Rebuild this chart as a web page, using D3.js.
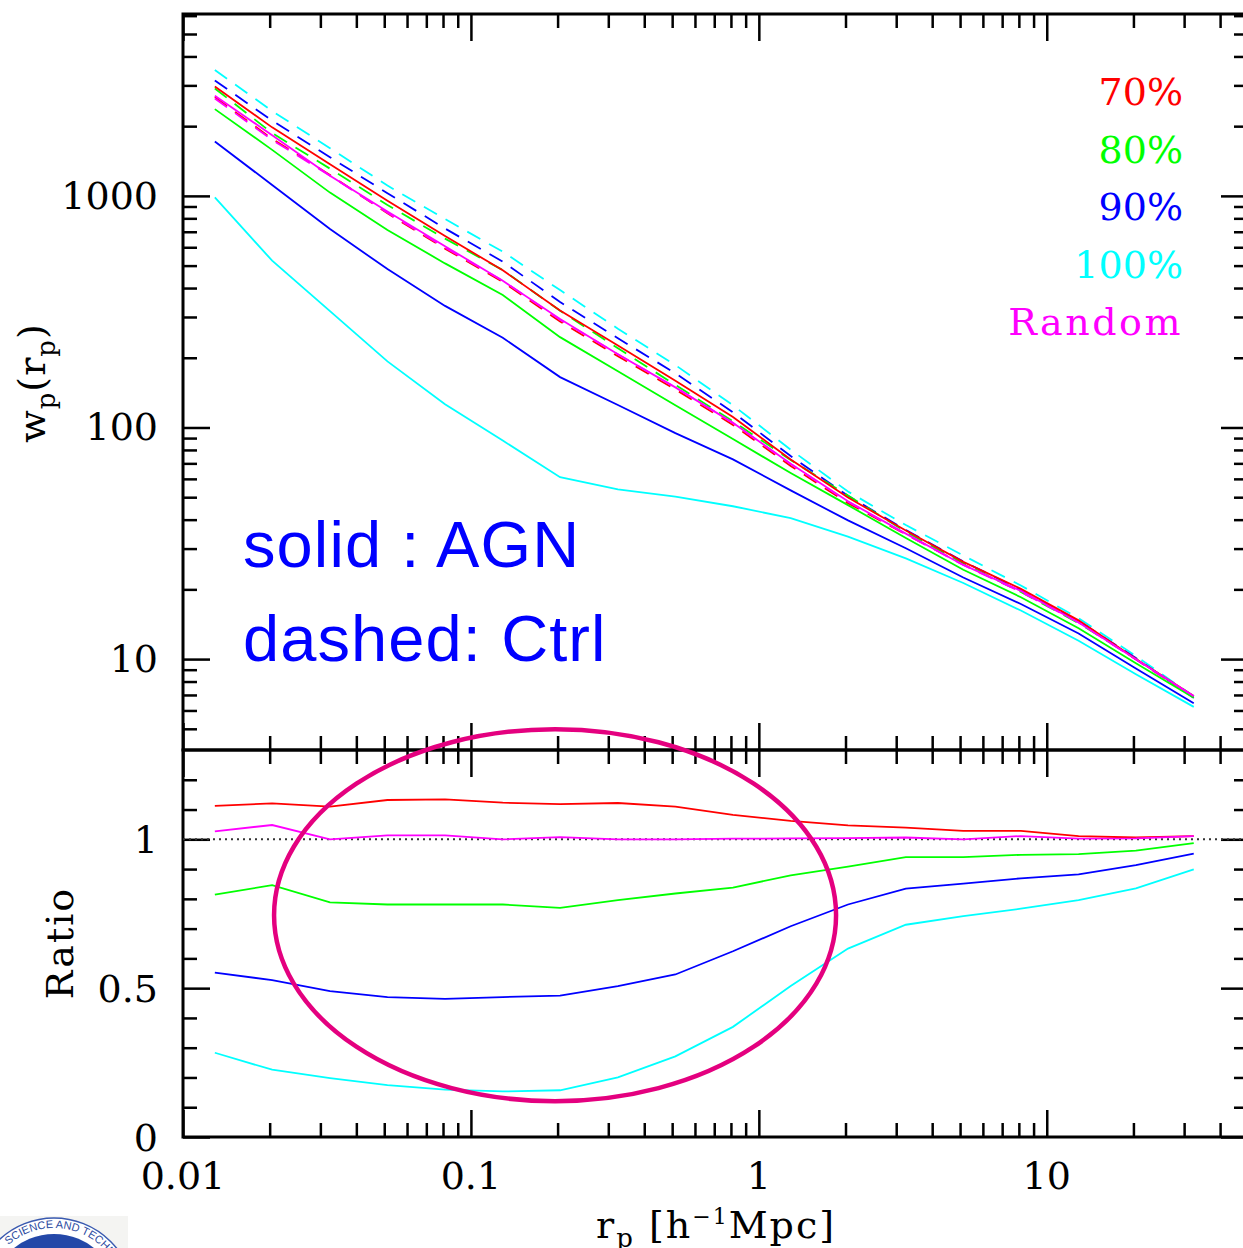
<!DOCTYPE html>
<html>
<head>
<meta charset="utf-8">
<script src="https://cdn.jsdelivr.net/npm/d3@7"></script>
<style>
  body { margin: 0; background: #fff; overflow: hidden; }
  text { white-space: pre; }
</style>
</head>
<body>
<div id="chart"></div>
<script>
// Projected separation bins [h^-1 Mpc]
const rp = [0.0129, 0.0204, 0.0324, 0.0513, 0.0813, 0.129, 0.204, 0.324, 0.513,
            0.813, 1.29, 2.04, 3.24, 5.13, 8.13, 12.9, 20.4, 32.4];

// w_p(r_p), AGN samples (solid)
const agn70  = [2968, 1976, 1368, 952, 671, 477, 320, 226, 159, 111, 72.8, 49.8, 35.9, 26.3, 20.1, 14.7, 10.0, 6.93];
const agn80  = [2369, 1580, 1033, 713, 511, 373, 245.5, 175, 124.8, 89.1, 63.6, 46.2, 33.3, 24.3, 18.5, 13.6, 9.6, 6.81];
const agn90  = [1718, 1114, 719, 483, 335, 244, 165, 125, 94.5, 72.8, 53.5, 39.7, 30.1, 22.5, 17.3, 12.9, 9.1, 6.44];
const agn100 = [986, 525, 318, 193, 126, 87.8, 61.0, 54.0, 50.3, 45.7, 40.6, 33.8, 27.2, 21.3, 16.2, 12.0, 8.6, 6.22];
const agnRandom = [2704, 1829, 1222, 856, 606, 430, 294, 207, 149, 104.7, 69.7, 48.0, 34.8, 25.5, 19.7, 14.4, 9.98, 6.92];

// w_p(r_p), control samples (dashed)
const ctrl70  = [2669, 1763, 1232, 841, 592, 425, 287, 203, 146, 102.6, 68.2, 47.1, 34.6, 25.6, 19.6, 14.5, 9.98, 6.85];
const ctrl80  = [2910, 1868, 1311, 913, 654, 478, 319, 220, 152.6, 106.3, 72.4, 50.9, 35.4, 25.9, 19.5, 14.3, 10.0, 6.9];
const ctrl90  = [3150, 2113, 1468, 1027, 723, 520, 348, 242.7, 171.4, 116.3, 75.3, 50.7, 36.1, 26.4, 19.9, 14.6, 10.1, 6.8];
const ctrl100 = [3499, 2323, 1607, 1108, 795, 574, 392, 267, 186, 124.7, 80.2, 52.9, 37.9, 28.0, 20.8, 15.0, 10.3, 6.9];
const ctrlRandom = [2633, 1745, 1222, 845, 598, 430, 292, 207, 149, 104.5, 69.5, 47.8, 34.6, 25.5, 19.5, 14.4, 9.95, 6.84];

// Ratio AGN / Ctrl
const ratio70  = [1.112, 1.121, 1.110, 1.132, 1.134, 1.123, 1.118, 1.122, 1.110, 1.082, 1.062, 1.047, 1.039, 1.028, 1.028, 1.011, 1.006, 1.011];
const ratio80  = [0.814, 0.846, 0.788, 0.781, 0.781, 0.781, 0.770, 0.796, 0.818, 0.838, 0.879, 0.908, 0.940, 0.940, 0.948, 0.950, 0.962, 0.987];
const ratio90  = [0.552, 0.527, 0.490, 0.470, 0.464, 0.470, 0.475, 0.507, 0.546, 0.624, 0.708, 0.781, 0.834, 0.851, 0.869, 0.882, 0.913, 0.952];
const ratio100 = [0.283, 0.226, 0.198, 0.174, 0.159, 0.153, 0.157, 0.200, 0.271, 0.370, 0.507, 0.633, 0.713, 0.742, 0.767, 0.796, 0.835, 0.899];
const ratioRandom = [1.027, 1.048, 1.000, 1.013, 1.013, 1.000, 1.007, 1.000, 1.000, 1.002, 1.003, 1.004, 1.006, 1.000, 1.011, 1.002, 1.003, 1.011];

// Legend / tick labels
const legendLabels = ['70%', '80%', '90%', '100%', 'Random'];
const colors = ['#ff0000', '#00ff00', '#0000ff', '#00ffff', '#ff00ff'];
const xTickValues = [0.01, 0.1, 1, 10];
const xTickLabels = ['0.01', '0.1', '1', '10'];
const wpTickValues = [10, 100, 1000];
const ratioTickValues = [0, 0.5, 1];
const ratioTickLabels = ['0', '0.5', '1'];

const width = 1243;
const height = 1248;
const plotLeft = 183, plotRight = 1248, plotTop = 14, plotMid = 750, plotBottom = 1137;
const serif = "'DejaVu Serif', serif";
const sans = "'Liberation Sans', Arial, sans-serif";

// Scales
const x = d3.scaleLog().domain([0.01, 50]).range([plotLeft, plotRight]);
const yTop = d3.scaleLog().domain([4.05, 6100]).range([plotMid, plotTop]);
const yRatio = d3.scaleLinear().domain([0, 1.3]).range([plotBottom, plotMid]);

const svg = d3.select('#chart')
  .append('svg')
  .attr('width', width)
  .attr('height', height);

// Minor ticks for log axes
function logMinor(lo, hi) {
  const out = [];
  for (let d = Math.pow(10, Math.floor(Math.log10(lo))); d < hi; d *= 10) {
    for (let k = 2; k <= 9; k++) {
      const v = +(d * k).toPrecision(3);
      if (v > lo && v < hi) out.push(v);
    }
  }
  return out;
}
const xMinor = logMinor(0.01, 50);
const wpMinor = logMinor(4.05, 6100);
const ratioMinor = d3.range(1, 13).map(i => i / 10).filter(v => v !== 0.5 && v !== 1);

function ticks(axisFn, scale, values, size, transform) {
  svg.append('g')
    .attr('transform', transform)
    .call(axisFn(scale).tickValues(values).tickSize(size).tickFormat(''))
    .call(g => g.select('.domain').remove())
    .selectAll('line')
    .attr('stroke', '#000')
    .attr('stroke-width', 2.5);
}

// Top panel ticks
ticks(d3.axisBottom, x, xTickValues, 27, `translate(0,${plotTop})`);
ticks(d3.axisBottom, x, xMinor, 14, `translate(0,${plotTop})`);
ticks(d3.axisTop, x, xTickValues, 27, `translate(0,${plotMid})`);
ticks(d3.axisTop, x, xMinor, 14, `translate(0,${plotMid})`);
ticks(d3.axisRight, yTop, wpTickValues, 27, `translate(${plotLeft},0)`);
ticks(d3.axisRight, yTop, wpMinor, 14, `translate(${plotLeft},0)`);
ticks(d3.axisLeft, yTop, wpTickValues, 27, `translate(${plotRight},0)`);
ticks(d3.axisLeft, yTop, wpMinor, 14, `translate(${plotRight},0)`);

// Ratio panel ticks
ticks(d3.axisBottom, x, xTickValues, 27, `translate(0,${plotMid})`);
ticks(d3.axisBottom, x, xMinor, 14, `translate(0,${plotMid})`);
ticks(d3.axisTop, x, xTickValues, 27, `translate(0,${plotBottom})`);
ticks(d3.axisTop, x, xMinor, 14, `translate(0,${plotBottom})`);
ticks(d3.axisRight, yRatio, ratioTickValues, 27, `translate(${plotLeft},0)`);
ticks(d3.axisRight, yRatio, ratioMinor, 14, `translate(${plotLeft},0)`);
ticks(d3.axisLeft, yRatio, ratioTickValues, 27, `translate(${plotRight},0)`);
ticks(d3.axisLeft, yRatio, ratioMinor, 14, `translate(${plotRight},0)`);

// Frames
[[plotTop, plotMid], [plotMid, plotBottom]].forEach(([a, b]) => {
  svg.append('rect')
    .attr('x', plotLeft).attr('y', a)
    .attr('width', plotRight - plotLeft).attr('height', b - a)
    .attr('fill', 'none')
    .attr('stroke', '#000')
    .attr('stroke-width', 3);
});

// Reference line at ratio = 1
svg.append('line')
  .attr('x1', plotLeft).attr('x2', plotRight)
  .attr('y1', yRatio(1)).attr('y2', yRatio(1))
  .attr('stroke', '#333')
  .attr('stroke-width', 2)
  .attr('stroke-dasharray', '2,4');

// Lines
const wpLine = d3.line().x((d, i) => x(rp[i])).y(d => yTop(d));
const ratioLine = d3.line().x((d, i) => x(rp[i])).y(d => yRatio(d));

const ctrlSeries = [ctrl100, ctrl90, ctrl80, ctrl70, ctrlRandom];
const ctrlColors = [colors[3], colors[2], colors[1], colors[0], colors[4]];
ctrlSeries.forEach((s, i) => {
  svg.append('path')
    .attr('d', wpLine(s))
    .attr('fill', 'none')
    .attr('stroke', ctrlColors[i])
    .attr('stroke-width', 1.8)
    .attr('stroke-dasharray', '15,10');
});

const agnSeries = [agn70, agn80, agn90, agn100, agnRandom];
agnSeries.forEach((s, i) => {
  svg.append('path')
    .attr('d', wpLine(s))
    .attr('fill', 'none')
    .attr('stroke', colors[i])
    .attr('stroke-width', 1.8);
});

const ratioSeries = [ratio70, ratio80, ratio90, ratio100, ratioRandom];
ratioSeries.forEach((s, i) => {
  svg.append('path')
    .attr('d', ratioLine(s))
    .attr('fill', 'none')
    .attr('stroke', colors[i])
    .attr('stroke-width', 1.8);
});

// Tick labels
svg.selectAll('.xlab')
  .data(xTickValues)
  .enter()
  .append('text')
  .attr('x', d => x(d))
  .attr('y', 1189)
  .attr('text-anchor', 'middle')
  .style('font-family', serif)
  .style('font-size', '38px')
  .text((d, i) => xTickLabels[i]);

svg.selectAll('.wplab')
  .data(wpTickValues)
  .enter()
  .append('text')
  .attr('x', 158)
  .attr('y', d => yTop(d) + 13)
  .attr('text-anchor', 'end')
  .style('font-family', serif)
  .style('font-size', '38px')
  .text(d => d);

svg.selectAll('.rlab')
  .data(ratioTickValues)
  .enter()
  .append('text')
  .attr('x', 158)
  .attr('y', d => yRatio(d) + 14)
  .attr('text-anchor', 'end')
  .style('font-family', serif)
  .style('font-size', '38px')
  .text((d, i) => ratioTickLabels[i]);

// Axis titles
const xTitle = svg.append('text')
  .attr('x', 596).attr('y', 1238)
  .style('font-family', serif)
  .style('font-size', '38px')
  .style('letter-spacing', '2px');
xTitle.append('tspan').text('r');
xTitle.append('tspan').attr('dy', 9).style('font-size', '26px').text('p');
xTitle.append('tspan').attr('dy', -9).text(' [h');
xTitle.append('tspan').attr('dy', -14).style('font-size', '22px').text('−1');
xTitle.append('tspan').attr('dy', 14).text('Mpc]');

const yTitle = svg.append('text')
  .attr('transform', 'translate(45,383) rotate(-90)')
  .attr('text-anchor', 'middle')
  .style('font-family', serif)
  .style('font-size', '38px')
  .style('letter-spacing', '1px');
yTitle.append('tspan').text('w');
yTitle.append('tspan').attr('dy', 10).style('font-size', '26px').text('p');
yTitle.append('tspan').attr('dy', -10).text('(r');
yTitle.append('tspan').attr('dy', 10).style('font-size', '26px').text('p');
yTitle.append('tspan').attr('dy', -10).text(')');

svg.append('text')
  .attr('transform', 'translate(73,943) rotate(-90)')
  .attr('text-anchor', 'middle')
  .style('font-family', serif)
  .style('font-size', '38px')
  .style('letter-spacing', '2px')
  .text('Ratio');

// Legend
svg.selectAll('.legend')
  .data(legendLabels)
  .enter()
  .append('text')
  .attr('x', 1183)
  .attr('y', (d, i) => 105 + i * 57.5)
  .attr('text-anchor', 'end')
  .attr('fill', (d, i) => colors[i])
  .style('font-family', serif)
  .style('font-size', '38px')
  .style('letter-spacing', d => d === 'Random' ? '2.5px' : '0px')
  .text(d => d);

// Line style note
svg.append('text')
  .attr('x', 243).attr('y', 567)
  .attr('fill', '#0000ff')
  .style('font-family', sans)
  .style('font-size', '65px')
  .style('letter-spacing', '1.1px')
  .text('solid : AGN');
svg.append('text')
  .attr('x', 243).attr('y', 661)
  .attr('fill', '#0000ff')
  .style('font-family', sans)
  .style('font-size', '65px')
  .style('letter-spacing', '1.1px')
  .text('dashed: Ctrl');

// Highlight ellipse
svg.append('ellipse')
  .attr('cx', x(0.196))
  .attr('cy', yRatio(0.745))
  .attr('rx', 281)
  .attr('ry', 186)
  .attr('fill', 'none')
  .attr('stroke', '#e4007f')
  .attr('stroke-width', 4.5);

// Partial logo in the corner
const logo = svg.append('g');
logo.append('rect')
  .attr('x', 0).attr('y', 1216)
  .attr('width', 128).attr('height', 40)
  .attr('fill', '#f4f4f2');
logo.append('circle')
  .attr('cx', 54).attr('cy', 1298).attr('r', 80)
  .attr('fill', '#fff')
  .attr('stroke', '#3a5ab0')
  .attr('stroke-width', 1.5);
logo.append('circle')
  .attr('cx', 54).attr('cy', 1298).attr('r', 64)
  .attr('fill', '#2448a8');
logo.append('path')
  .attr('id', 'logoArc')
  .attr('d', 'M -16 1298 A 70 70 0 0 1 124 1298')
  .attr('fill', 'none');
logo.append('text')
  .attr('fill', '#2a4aa0')
  .style('font-family', sans)
  .style('font-size', '11px')
  .append('textPath')
  .attr('href', '#logoArc')
  .attr('startOffset', 60)
  .text('SCIENCE AND TECHNOLOGY');
</script>
</body>
</html>
